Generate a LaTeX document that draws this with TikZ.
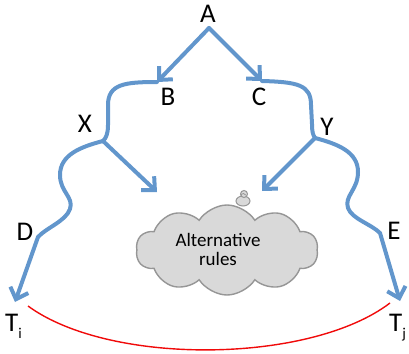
\documentclass[tikz,border=0pt]{standalone}
\usepackage{fontspec}
\setmainfont{Carlito}
\usetikzlibrary{arrows.meta,shapes.symbols}
\definecolor{flowblue}{RGB}{98,150,204}
\definecolor{cloudfill}{RGB}{217,217,217}
\definecolor{cloudedge}{RGB}{150,150,150}
\definecolor{linkred}{RGB}{240,10,10}
\begin{document}
\begin{tikzpicture}[x=1pt,y=-1pt,
  lbl/.style={font=\fontsize{27}{32}\selectfont, inner sep=0pt},
  flow/.style={draw=flowblue, line width=4pt, line cap=round, line join=round},
  tipped/.style={-{Straight Barb[length=10pt,width=19pt]}}
]
\useasboundingbox (0,0) rectangle (409,353);

% labels
\node[lbl] (A) at (208,14) {A};
\node[lbl] (B) at (168,97) {B};
\node[lbl] (C) at (259,97) {C};
\node[lbl] (X) at (85,124) {X};
\node[lbl] (Y) at (327,127) {Y};
\node[lbl] (D) at (25,232) {D};
\node[lbl] (E) at (394,231) {E};
\node[lbl, anchor=base west] (Ti) at (5,331) {T\raisebox{-7pt}{\fontsize{15}{15}\selectfont i}};
\node[lbl, anchor=base west] (Tj) at (389,331) {T\raisebox{-7pt}{\fontsize{15}{15}\selectfont j}};

% cloud with its little thought bubbles
\node[cloud, cloud puffs=10, cloud puff arc=115, cloud ignores aspect,
      minimum width=182pt, minimum height=90pt,
      fill=cloudfill, draw=cloudedge, line width=1.4pt] (rules) at (227,250) {};
\node[font=\fontsize{19}{19}\selectfont, align=center, inner sep=0pt] (ruleText) at (218,249) {Alternative\\rules};
\draw[cloudedge, fill=cloudfill, line width=1pt] (243,201) ellipse (7pt and 5pt);
\draw[cloudedge, fill=cloudfill, line width=1pt] (244,194) circle (3.5pt);
\draw[cloudedge, line width=0.8pt] (241,196) arc (180:20:2.5pt);

% junction and end points
\coordinate (top) at (209,28);
\coordinate (bTip) at (157,82);
\coordinate (cTip) at (262,81);
\coordinate (xJ) at (103,141);
\coordinate (yJ) at (315,138);
\coordinate (lIn) at (157,192);
\coordinate (rIn) at (262,191);
\coordinate (dBend) at (38,237);
\coordinate (eBend) at (380,233);
\coordinate (dTip) at (15,302);
\coordinate (eTip) at (400,301);

% blue flows
\draw[flow,tipped] (top) -- (bTip);
\draw[flow,tipped] (top) -- (cTip);
\draw[flow] (bTip) .. controls (125,82) and (108,84) .. (108,105)
  -- (108,125) .. controls (108,134) and (106,138) .. (xJ);
\draw[flow] (cTip) .. controls (298,82) and (311,85) .. (311,105)
  -- (312,124) .. controls (312,132) and (313,135) .. (yJ);
\draw[flow,tipped] (xJ) -- (lIn);
\draw[flow,tipped] (yJ) -- (rIn);
\draw[flow,tipped] (xJ) .. controls (80,147) and (60,155) .. (60,175)
  .. controls (60,192) and (74,197) .. (70,209)
  .. controls (66,221) and (46,228) .. (dBend) -- (dTip);
\draw[flow,tipped] (yJ) .. controls (338,144) and (358,152) .. (358,172)
  .. controls (358,190) and (344,196) .. (348,208)
  .. controls (352,219) and (371,224) .. (eBend) -- (eTip);

% red link between the two end points
\coordinate (redL) at (28,306);
\coordinate (redR) at (390,303);
\draw[linkred, line width=1.4pt] (redL) .. controls (110,366) and (310,364) .. (redR);
\end{tikzpicture}
\end{document}
